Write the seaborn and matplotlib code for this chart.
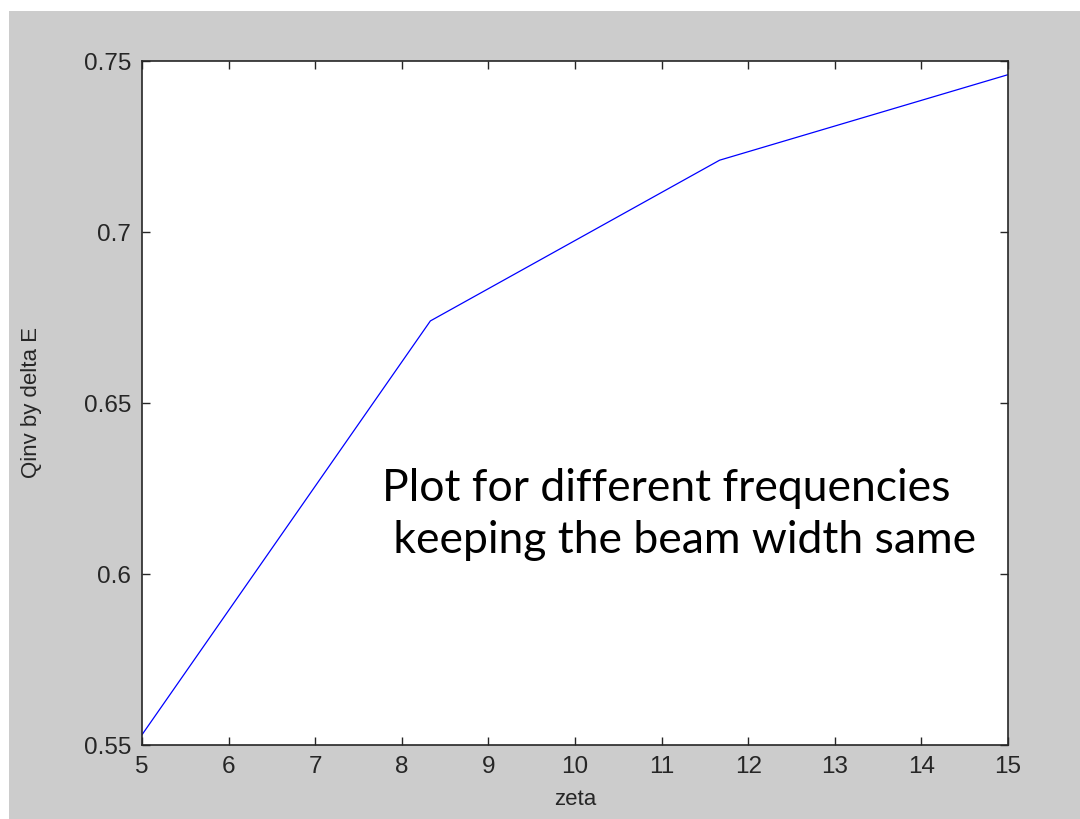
import matplotlib
matplotlib.use("Agg")
import matplotlib.pyplot as plt
import seaborn as sns
import pandas as pd
from matplotlib.patches import Rectangle

zeta = [5, 8.33, 11.67, 15]
qinv = [0.553, 0.674, 0.721, 0.746]
xticks = list(range(5, 16))
yticks = [0.55, 0.6, 0.65, 0.7, 0.75]
ytick_labels = ["0.55", "0.6", "0.65", "0.7", "0.75"]

sns.set_style("ticks")
plt.rcParams["font.family"] = ["Liberation Sans", "DejaVu Sans"]

df = pd.DataFrame({"zeta": zeta, "qinv": qinv})

fig = plt.figure(figsize=(10.8, 8.19), dpi=100)
fig.patch.set_facecolor("white")
# grey matlab figure background, leaves a thin white strip top/left
fig.patches.append(Rectangle((9 / 1080, 0), 1, 1 - 11 / 819, transform=fig.transFigure,
                             facecolor="#cccccc", edgecolor="none", zorder=-1))

ax = fig.add_axes([142 / 1080, 1 - 745 / 819, 866 / 1080, 684 / 819])
ax.set_facecolor("white")
sns.lineplot(data=df, x="zeta", y="qinv", ax=ax, color="#0000ff", linewidth=0.9)

ax.set_xlim(5, 15)
ax.set_ylim(0.55, 0.75)
ax.set_xticks(xticks)
ax.set_xticklabels([str(t) for t in xticks])
ax.set_yticks(yticks)
ax.set_yticklabels(ytick_labels)
ax.tick_params(direction="in", length=6, width=1, top=True, right=True,
               labelsize=17.5, labelcolor="#262626", pad=8, color="#262626")
for s in ax.spines.values():
    s.set_visible(True)
    s.set_color("#262626")
    s.set_linewidth(1.2)

ax.set_xlabel("zeta", fontsize=16, color="#262626")
ax.set_ylabel("Qinv by delta E", fontsize=16, color="#262626")
ax.xaxis.set_label_coords(0.5, -0.064)
ax.yaxis.set_label_coords(-0.115, 0.5)

ax.text(382 / 1080, 1 - 553 / 819, "Plot for different frequencies\n keeping the beam width same",
        transform=fig.transFigure, fontsize=32, family=["Lato", "DejaVu Sans"],
        color="black", va="baseline", ha="left", linespacing=1.34)

fig.savefig("out.png", dpi=100, facecolor=fig.get_facecolor())
